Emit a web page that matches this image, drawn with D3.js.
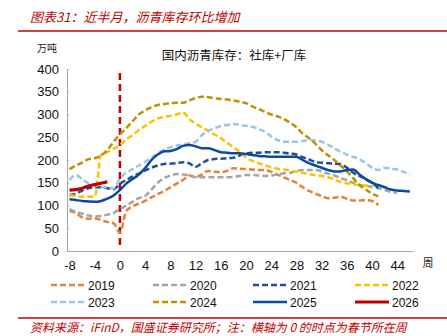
<!DOCTYPE html>
<html>
<head>
<meta charset="utf-8">
<script src="https://cdn.jsdelivr.net/npm/d3@7"></script>
<style>
  body { margin: 0; background: #fff; }
  text { font-family: "Liberation Sans", Arial, sans-serif; }
  .cn { font-family: "Noto Sans CJK SC", sans-serif; }
</style>
</head>
<body>
<svg id="chart" width="447" height="336"></svg>
<script>
// weeks relative to spring festival (0)
var weeks = [-8,-7,-6,-5,-4,-3,-2,-1,0,1,2,3,4,5,6,7,8,9,10,11,12,13,14,15,16,17,18,19,20,
  21,22,23,24,25,26,27,28,29,30,31,32,33,34,35,36,37,38,39,40,41,42,43,44,45,46];
var xTicks = [-8,-4,0,4,8,12,16,20,24,28,32,36,40,44];
var yTicks = [0,50,100,150,200,250,300,350,400];
var years = ["2019","2020","2021","2022","2023","2024","2025","2026"];

// each series starts at week -8 (万吨)
var v2019 = [88,84,74,71,72,68,64,61,40,88,98,104,110,118,125,132,140,148,156,
  166,163,168,176,174,173,176,182,181,180,179,178,178,174,168,162,156,150,140,132,
  126,121,116,117,119,115,111,111,112,110,101];
var v2020 = [92,86,82,78,76,77,80,84,92,100,108,116,121,135,150,160,166,169,168,
  166,162,162,162,162,162,162,163,165,167,167,166,165,166,168,171,172,176,178,178,
  178,175,170,166,160,156,150,145,143,141,138,134,130,128];
var v2021 = [123,126,133,138,140,140,138,136,148,156,164,170,177,183,188,191,192,193,195,
  193,185,193,200,202,203,204,205,210,214,216,216,217,217,217,216,214,212,206,201,
  196,194,193,192,191,183,172,165,158,150,138];
var v2022 = [123,121,119,119,119,211,218,225,233,245,255,266,275,284,291,295,297,300,305,
  290,280,272,264,256,248,238,228,218,205,198,193,188,184,181,179,177,174,172,169,
  167,165,162,157,152,149,147,145,144,143];
var v2023 = [156,167,158,149,145,141,139,138,160,172,180,188,196,205,214,222,228,232,234,
  237,240,255,264,270,274,277,279,277,275,273,268,262,252,244,240,240,240,242,244,
  243,240,234,226,218,212,207,202,193,183,178,183,181,179,174,168];
var v2024 = [180,188,194,202,204,210,222,240,256,270,285,300,309,316,321,323,325,326,326,
  331,336,339,338,336,334,333,331,328,325,318,312,306,300,296,290,282,272,258,248,
  236,222,211,200,188,175,160,145,135,126,120];
var v2025 = [114,112,110,109,108,110,115,122,134,148,158,168,182,200,212,219,220,224,231,
  233,230,226,226,222,217,216,215,215,213,211,209,208,207,207,207,207,207,200,193,
  188,183,178,175,175,178,179,168,158,150,145,140,135,133,132,131];
var v2026 = [134,135,138,143,146,149,152];

var seriesValues = [v2019, v2020, v2021, v2022, v2023, v2024, v2025, v2026];
var colors = ["#ED7D31","#A5A5A5","#1F4E9A","#FFC000","#9DC3E6","#BF9000","#0B4A9E","#C00000"];
var dashed = [true, true, true, true, true, true, false, false];

var svg = d3.select("#chart");
svg.append("rect").attr("width", 447).attr("height", 336).attr("fill", "#fff");

// header
svg.append("text").attr("class", "cn")
  .attr("x", 30).attr("y", 22)
  .attr("font-size", 13).attr("font-style", "italic")
  .attr("fill", "#C00000")
  .text("图表31：近半月，沥青库存环比增加");
svg.append("line").attr("x1", 18).attr("x2", 447).attr("y1", 31).attr("y2", 31)
  .attr("stroke", "#C00000").attr("stroke-width", 1.5);

svg.append("text").attr("class", "cn")
  .attr("x", 37).attr("y", 52).attr("font-size", 10).attr("fill", "#222")
  .text("万吨");
svg.append("text").attr("class", "cn")
  .attr("x", 234).attr("y", 60).attr("text-anchor", "middle")
  .attr("font-size", 12.5).attr("fill", "#111")
  .text("国内沥青库存：社库+厂库");

var x = d3.scaleLinear().domain([-8.4, 46.5]).range([67, 413]);
var y = d3.scaleLinear().domain([0, 400]).range([251, 69]);

// axes
var yAxis = svg.append("g").attr("transform", "translate(67,0)")
  .call(d3.axisLeft(y).tickValues(yTicks).tickSize(-2).tickPadding(8));
yAxis.select(".domain").attr("stroke", "#A6A6A6");
yAxis.selectAll(".tick line").attr("stroke", "#A6A6A6");
yAxis.selectAll(".tick text").attr("font-size", 13).attr("fill", "#111")
  .attr("font-family", "Liberation Sans, Arial, sans-serif");

var xAxis = svg.append("g").attr("transform", "translate(0,251)")
  .call(d3.axisBottom(x).tickValues(xTicks).tickSize(0).tickPadding(10)
    .tickFormat(function(d) { return String(d); }));
xAxis.select(".domain").attr("stroke", "#A6A6A6");
xAxis.selectAll(".tick text").attr("font-size", 13).attr("fill", "#111")
  .attr("font-family", "Liberation Sans, Arial, sans-serif");

svg.append("text").attr("class", "cn")
  .attr("x", 428).attr("y", 267).attr("text-anchor", "middle")
  .attr("font-size", 11).attr("fill", "#222").text("周");

// spring festival marker
svg.append("line")
  .attr("x1", x(0)).attr("x2", x(0)).attr("y1", 73).attr("y2", 247)
  .attr("stroke", "#C00000").attr("stroke-width", 2.5).attr("stroke-dasharray", "7,4");

var line = d3.line()
  .x(function(d, i) { return x(weeks[i]); })
  .y(function(d) { return y(d); })
  .curve(d3.curveMonotoneX);

svg.append("g").selectAll("path")
  .data(seriesValues)
  .enter().append("path")
  .attr("d", function(d) { return line(d); })
  .attr("fill", "none")
  .attr("stroke", function(d, i) { return colors[i]; })
  .attr("stroke-width", function(d, i) { return i == 7 ? 3.2 : 2.5; })
  .attr("stroke-dasharray", function(d, i) { return dashed[i] ? "6,3" : null; });

// legend
var legendX = [51, 153, 253, 355];
var leg = svg.append("g").selectAll("g")
  .data(years)
  .enter().append("g")
  .attr("transform", function(d, i) {
    return "translate(" + legendX[i % 4] + "," + (i < 4 ? 285 : 302) + ")";
  });
leg.append("line")
  .attr("x1", 0).attr("x2", 34)
  .attr("stroke", function(d, i) { return colors[i]; })
  .attr("stroke-width", function(d, i) { return i == 7 ? 3.2 : 2.5; })
  .attr("stroke-dasharray", function(d, i) { return dashed[i] ? "6,3" : null; });
leg.append("text")
  .attr("x", 37).attr("y", 4.5)
  .attr("font-size", 12).attr("fill", "#111")
  .text(function(d) { return d; });

// footer
svg.append("line").attr("x1", 18).attr("x2", 447).attr("y1", 318).attr("y2", 318)
  .attr("stroke", "#C00000").attr("stroke-width", 1.5);
svg.append("text").attr("class", "cn")
  .attr("x", 30).attr("y", 332)
  .attr("font-size", 12).attr("font-style", "italic")
  .attr("fill", "#C00000")
  .text("资料来源：iFinD，国盛证券研究所；注：横轴为 0 的时点为春节所在周");
</script>
</body>
</html>
